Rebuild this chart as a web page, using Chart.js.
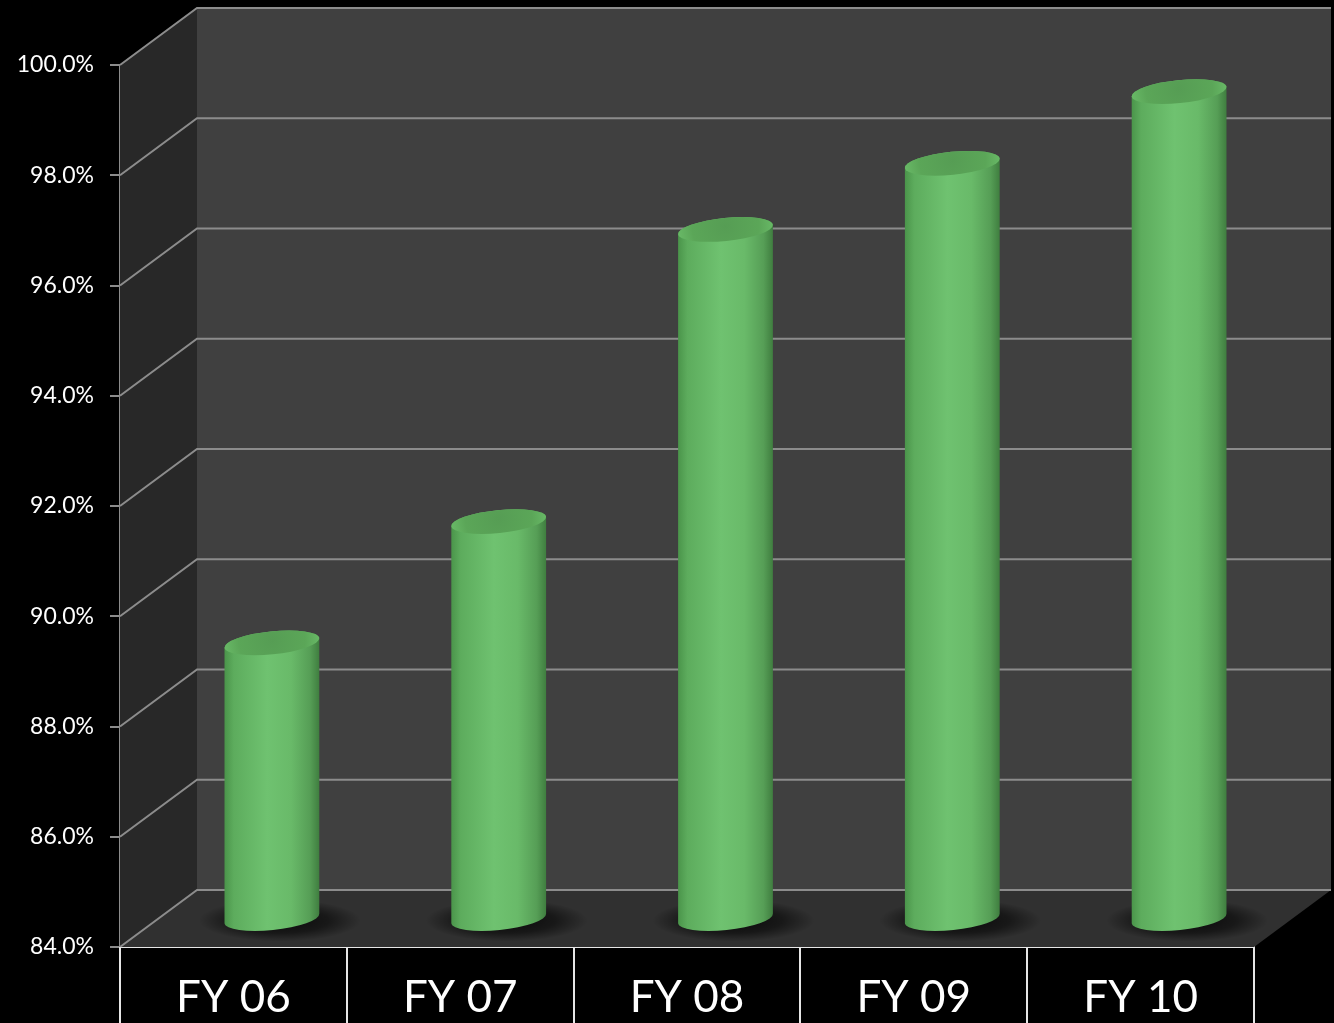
<!DOCTYPE html>
<html>
<head>
<meta charset="utf-8">
<script src="https://cdn.jsdelivr.net/npm/chart.js@4.4.1/dist/chart.umd.min.js"></script>
<style>
  html, body { margin: 0; padding: 0; background: #000; }
  canvas { display: block; }
</style>
</head>
<body>
<canvas id="chart" width="1334" height="1023"></canvas>
<script>
// datos del gráfico
const categories = ['FY 06', 'FY 07', 'FY 08', 'FY 09', 'FY 10'];
const values = [89.0, 91.2, 96.5, 97.7, 99.0];
const yTicks = [84, 86, 88, 90, 92, 94, 96, 98, 100];

// profundidad del efecto 3D
const DEPTH_X = 77;
const DEPTH_Y = -57;

// paredes, suelo y rejilla 3D
const wallsPlugin = {
    id: 'walls3d',
    beforeDatasetsDraw(chart) {
        const ctx = chart.ctx;
        const area = chart.chartArea;
        const y = chart.scales.y;
        const yTop = y.getPixelForValue(yTicks[yTicks.length - 1]);
        const yBot = y.getPixelForValue(yTicks[0]);
        const l = area.left, r = area.right;

        ctx.save();
        // pared del fondo
        ctx.fillStyle = '#404040';
        ctx.fillRect(l + DEPTH_X, yTop + DEPTH_Y, r - l, yBot - yTop);
        // pared lateral
        ctx.fillStyle = '#282828';
        ctx.beginPath();
        ctx.moveTo(l, yTop);
        ctx.lineTo(l + DEPTH_X, yTop + DEPTH_Y);
        ctx.lineTo(l + DEPTH_X, yBot + DEPTH_Y);
        ctx.lineTo(l, yBot);
        ctx.closePath();
        ctx.fill();
        // suelo
        ctx.fillStyle = '#303030';
        ctx.beginPath();
        ctx.moveTo(l, yBot);
        ctx.lineTo(l + DEPTH_X, yBot + DEPTH_Y);
        ctx.lineTo(r + DEPTH_X, yBot + DEPTH_Y);
        ctx.lineTo(r, yBot);
        ctx.closePath();
        ctx.fill();

        // líneas de la rejilla
        ctx.strokeStyle = '#8c8c8c';
        ctx.lineWidth = 2;
        yTicks.forEach(v => {
            const py = y.getPixelForValue(v);
            ctx.beginPath();
            ctx.moveTo(l, py);
            ctx.lineTo(l + DEPTH_X, py + DEPTH_Y);
            ctx.lineTo(r + DEPTH_X, py + DEPTH_Y);
            ctx.stroke();
        });
        ctx.restore();
    },
    afterDatasetsDraw(chart) {
        const ctx = chart.ctx;
        const meta = chart.getDatasetMeta(0);
        const y = chart.scales.y;
        const floor = y.getPixelForValue(y.min);
        const hx = DEPTH_X / 2, hy = DEPTH_Y / 2;
        const ry = 11.5, rot = -0.1;

        // sombras en el suelo
        meta.data.forEach(el => {
            const cx = el.x + hx, base = floor + hy;
            ctx.save();
            ctx.translate(cx + 8, base + 2);
            ctx.scale(1, 0.26);
            const rad = el.width * 0.85;
            const g = ctx.createRadialGradient(0, 0, 0, 0, 0, rad);
            g.addColorStop(0, 'rgba(0,0,0,0.8)');
            g.addColorStop(0.6, 'rgba(0,0,0,0.5)');
            g.addColorStop(1, 'rgba(0,0,0,0)');
            ctx.fillStyle = g;
            ctx.beginPath();
            ctx.arc(0, 0, rad, 0, Math.PI * 2);
            ctx.fill();
            ctx.restore();
        });

        // cilindros
        meta.data.forEach(el => {
            const cx = el.x + hx;
            const top = el.y + hy;
            const base = floor + hy;
            const rx = el.width / 2;

            const body = ctx.createLinearGradient(cx - rx, 0, cx + rx, 0);
            body.addColorStop(0, '#4a944a');
            body.addColorStop(0.1, '#5dac5d');
            body.addColorStop(0.45, '#6fc270');
            body.addColorStop(0.7, '#69ba69');
            body.addColorStop(0.9, '#569e56');
            body.addColorStop(1, '#3f7d3f');

            ctx.save();
            ctx.fillStyle = body;
            ctx.beginPath();
            ctx.ellipse(cx, base, rx, ry, rot, 0, Math.PI);
            ctx.ellipse(cx, top, rx, ry, rot, Math.PI, Math.PI * 2);
            ctx.closePath();
            ctx.fill();

            // tapa superior
            const cap = ctx.createRadialGradient(cx, top - 3, 0, cx, top - 3, rx);
            cap.addColorStop(0, '#569d54');
            cap.addColorStop(0.7, '#5ba658');
            cap.addColorStop(1, '#68b866');
            ctx.fillStyle = cap;
            ctx.beginPath();
            ctx.ellipse(cx, top, rx, ry, rot, 0, Math.PI * 2);
            ctx.fill();
            ctx.restore();
        });
    },
    afterDraw(chart) {
        // líneas verticales de la tabla de categorías
        const ctx = chart.ctx;
        const x = chart.scales.x;
        const n = categories.length;
        const step = (x.right - x.left) / n;
        ctx.save();
        ctx.strokeStyle = '#e6e6e6';
        ctx.lineWidth = 2;
        for (let i = 0; i <= n; i++) {
            const px = Math.round(x.left + i * step);
            ctx.beginPath();
            ctx.moveTo(px, x.top);
            ctx.lineTo(px, chart.height);
            ctx.stroke();
        }
        ctx.restore();
    }
};

new Chart(document.getElementById('chart').getContext('2d'), {
    type: 'bar',
    data: {
        labels: categories,
        datasets: [{
            data: values,
            backgroundColor: 'rgba(0,0,0,0)',
            borderWidth: 0,
            barPercentage: 0.42,
            categoryPercentage: 1
        }]
    },
    options: {
        responsive: false,
        animation: false,
        layout: { padding: { top: 65, right: 80, left: 0, bottom: 0 } },
        plugins: { legend: { display: false }, tooltip: { enabled: false } },
        scales: {
            x: {
                afterFit: s => { s.height = 76; },
                grid: { display: false, drawTicks: false },
                border: { display: true, color: '#e6e6e6', width: 2 },
                ticks: { color: '#fff', padding: 24, font: { family: 'Lato', size: 44 } }
            },
            y: {
                min: 84,
                max: 100,
                afterFit: s => { s.width = 120; },
                grid: { drawOnChartArea: false, drawTicks: true, tickLength: 10, color: '#8c8c8c', lineWidth: 2 },
                border: { display: true, color: '#8c8c8c', width: 2 },
                ticks: {
                    stepSize: 2,
                    padding: 16,
                    color: '#fff',
                    font: { family: 'Lato', size: 23 },
                    callback: v => v.toFixed(1) + '%'
                }
            }
        }
    },
    plugins: [wallsPlugin]
});
</script>
</body>
</html>
